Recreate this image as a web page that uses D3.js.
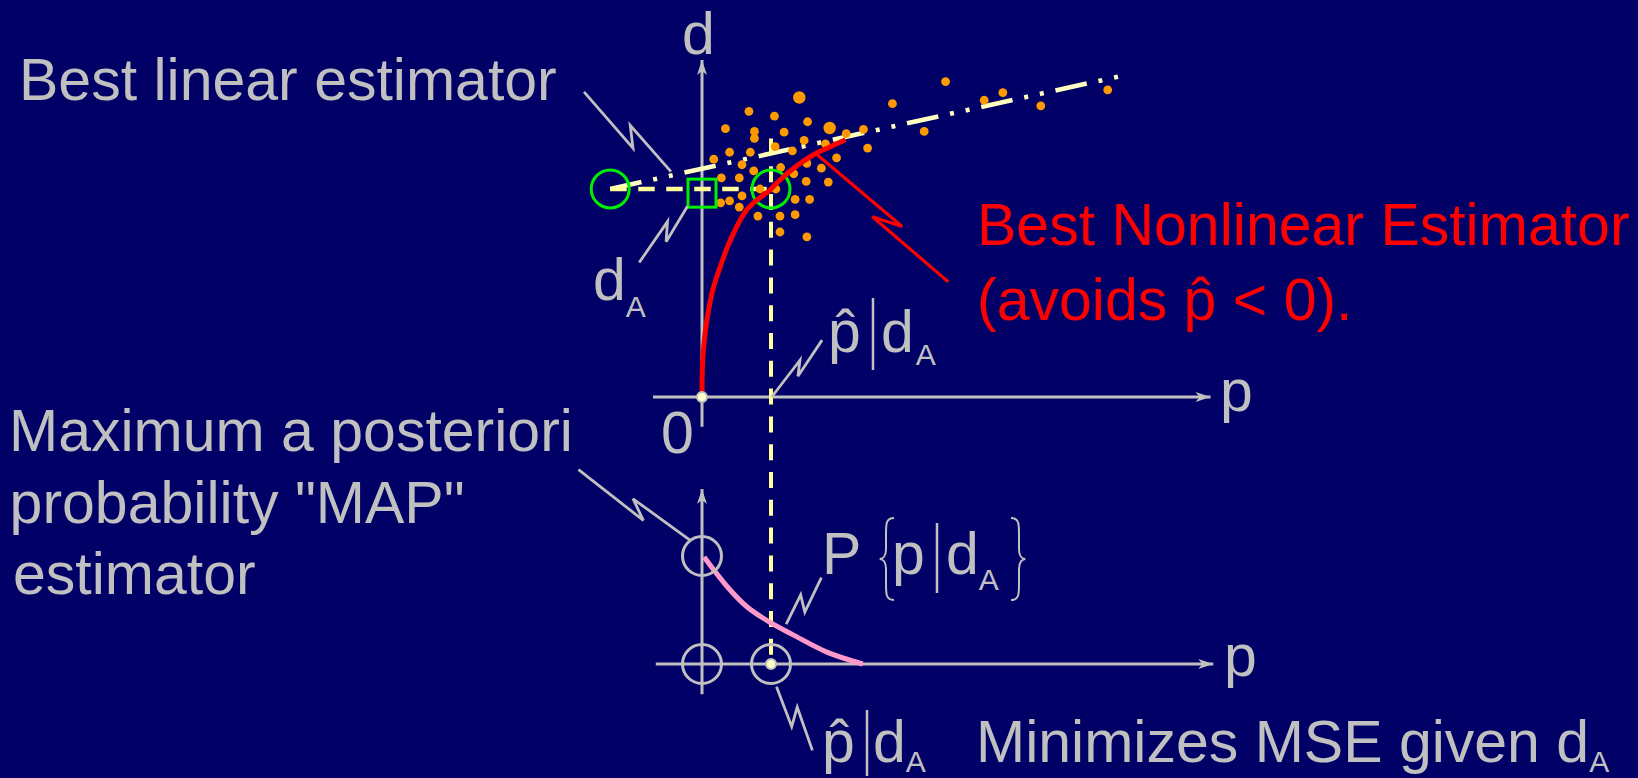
<!DOCTYPE html>
<html>
<head>
<meta charset="utf-8">
<script src="https://cdn.jsdelivr.net/npm/d3@7"></script>
<style>
  html, body { margin: 0; padding: 0; background: #000066; }
  svg { display: block; }
  text { font-family: "Liberation Sans", Arial, sans-serif; }
</style>
</head>
<body>
<div id="chart"></div>
<script>
let width = 1638;
let height = 778;

// the measured value d_A and the estimate p-hat it gives
let dA = 3;
let pHat = 1;

// scattered (p, d) samples, n = how many samples sit on the same spot
let sampleP = [1.41, 0.68, 1.05, 1.53, 1.85, 0.34, 0.76, 1.19, 2.09, 2.34,
  0.76, 1.48, 1.79, 1.06, 2.40, 0.40, 0.70, 1.31, 0.17, 0.58,
  1.52, 1.95, 0.75, 1.14, 1.33, 1.73, 0.28, 0.54, 1.51, 1.83,
  0.84, 1.07, 0.58, 0.27, 0.40, 0.54, 1.35, 1.56, 0.81, 1.13,
  1.35, 1.13, 1.52, 2.76, 3.22, 3.53, 4.09, 4.36, 4.91, 5.88];
let sampleD = [4.32, 4.12, 4.05, 3.97, 3.88, 3.87, 3.83, 3.82, 3.80, 3.86,
  3.73, 3.70, 3.65, 3.61, 3.59, 3.53, 3.53, 3.55, 3.43, 3.35,
  3.37, 3.45, 3.26, 3.31, 3.22, 3.30, 3.16, 3.16, 3.11, 3.10,
  3.00, 3.00, 2.90, 2.80, 2.83, 2.74, 2.85, 2.85, 2.61, 2.61,
  2.63, 2.38, 2.31, 4.23, 3.83, 4.55, 4.28, 4.39, 4.20, 4.43];
let sampleN = [2, 1, 1, 1, 2, 1, 1, 1, 1, 1, 1, 1, 1, 1, 1, 1, 1, 1, 1, 1,
  1, 1, 1, 1, 1, 1, 1, 1, 1, 1, 1, 1, 1, 1, 1, 1, 1, 1, 1, 1,
  1, 1, 1, 1, 1, 1, 1, 1, 1, 1];

// best linear estimator (ends of the fitted line)
let linearP = [-1.33, 6.03];
let linearD = [3.0, 4.62];

// best nonlinear estimator
let nonlinearP = [0, 0.02, 0.145, 0.30, 0.41, 0.65, 1.0, 1.13, 1.37, 1.61, 1.86, 2.08];
let nonlinearD = [0, 0.68, 1.50, 1.98, 2.26, 2.70, 3.0, 3.13, 3.33, 3.49, 3.61, 3.71];

// posterior P{p | d_A}
let postP = [0.03, 0.36, 0.65, 1.0, 1.32, 1.81, 2.33];
let postProb = [0.99, 0.72, 0.53, 0.38, 0.27, 0.11, 0.0];

// axis extents [min, max]
let topAxisP = [-0.71, 7.37];
let topAxisD = [-0.43, 4.86];
let botAxisP = [-0.67, 7.41];
let botAxisProb = [-0.28, 1.62];

// lightning callouts, as [p, value] points
let boltLinear = [[-1.71, 4.40], [-1.00, 3.59], [-1.04, 3.92], [-0.45, 3.25]];
let boltDA = [[-0.21, 2.75], [-0.52, 2.24], [-0.50, 2.53], [-0.91, 1.94]];
let boltNonlinear = [[1.64, 3.52], [2.90, 2.46], [2.47, 2.60], [3.57, 1.66]];
let boltPHatTop = [[1.01, 0.0], [1.42, 0.53], [1.39, 0.30], [1.74, 0.82]];
let boltMAP = [[-1.79, 1.80], [-0.85, 1.33], [-1.00, 1.53], [-0.18, 1.15]];
let boltPost = [[1.22, 0.37], [1.43, 0.64], [1.49, 0.48], [1.73, 0.80]];
let boltPHatBot = [[1.08, -0.21], [1.30, -0.58], [1.38, -0.40], [1.60, -0.80]];

let grey = "#c0c0c0";
let fontSize = 59;

let svg = d3.select("#chart").append("svg")
  .attr("width", width)
  .attr("height", height);

svg.append("rect").attr("width", width).attr("height", height).attr("fill", "#000066");

let x = d3.scaleLinear().domain([0, pHat]).range([702, 771]);
let yTop = d3.scaleLinear().domain([0, dA]).range([397, 189]);
let yBot = d3.scaleLinear().domain([0, 1]).range([664, 556]);
let rScale = d3.scaleSqrt().domain([0, 1]).range([0, 4.4]);

// straight line with a slim arrow head at (x1, y1)
function arrowLine(g, x0, y0, x1, y1) {
  g.append("line")
    .attr("x1", x0).attr("y1", y0).attr("x2", x1).attr("y2", y1)
    .attr("stroke", grey).attr("stroke-width", 3);
  let a = Math.atan2(y1 - y0, x1 - x0);
  let c = Math.cos(a), s = Math.sin(a);
  let pts = [[x1, y1],
    [x1 - 15 * c + 5 * s, y1 - 15 * s - 5 * c],
    [x1 - 11 * c, y1 - 11 * s],
    [x1 - 15 * c - 5 * s, y1 - 15 * s + 5 * c]];
  g.append("path").attr("d", "M" + pts.join("L") + "Z").attr("fill", grey);
}

function bolt(g, pts, yScale, color) {
  let line = d3.line().x(d => x(d[0])).y(d => yScale(d[1]));
  g.append("path").attr("d", line(pts))
    .attr("fill", "none").attr("stroke", color)
    .attr("stroke-width", color === grey ? 2.8 : 3.2)
    .attr("stroke-linejoin", "miter");
}

function brace(g, xc, y0, y1, dir) {
  // dir = 1 for "{", -1 for "}"
  let m = (y0 + y1) / 2;
  let o = 8 * dir;
  let path = d3.path();
  path.moveTo(xc + o, y0);
  path.bezierCurveTo(xc, y0, xc, y0 + 6, xc, y0 + 16);
  path.lineTo(xc, m - 10);
  path.bezierCurveTo(xc, m - 3, xc - o * 0.4, m, xc - o * 0.8, m);
  path.bezierCurveTo(xc - o * 0.4, m, xc, m + 3, xc, m + 10);
  path.lineTo(xc, y1 - 16);
  path.bezierCurveTo(xc, y1 - 6, xc, y1, xc + o, y1);
  g.append("path").attr("d", path.toString())
    .attr("fill", "none").attr("stroke", grey).attr("stroke-width", 2);
}

// ---------- top plot ----------
let gTop = svg.append("g");

arrowLine(gTop, x(topAxisP[0]), yTop(0), x(topAxisP[1]), yTop(0));
arrowLine(gTop, x(0), yTop(topAxisD[0]), x(0), yTop(topAxisD[1]));

// best linear estimator
gTop.append("line")
  .attr("x1", x(linearP[0])).attr("y1", yTop(linearD[0]))
  .attr("x2", x(linearP[1])).attr("y2", yTop(linearD[1]))
  .attr("stroke", "#ffffc0").attr("stroke-width", 4.6)
  .attr("stroke-dasharray", "32 12 4 12 4 12");

// d_A level and p-hat drop line
gTop.append("line")
  .attr("x1", x(linearP[0])).attr("y1", yTop(dA))
  .attr("x2", x(pHat)).attr("y2", yTop(dA))
  .attr("stroke", "#ffff99").attr("stroke-width", 4.4)
  .attr("stroke-dasharray", "16.5 11.5");
gTop.append("line")
  .attr("x1", x(pHat)).attr("y1", yTop(3.73))
  .attr("x2", x(pHat)).attr("y2", yBot(0))
  .attr("stroke", "#ffff99").attr("stroke-width", 4)
  .attr("stroke-dasharray", "16 11.8");

// samples
gTop.append("g").selectAll("circle")
  .data(d3.range(sampleP.length))
  .enter().append("circle")
  .attr("cx", i => x(sampleP[i]))
  .attr("cy", i => yTop(sampleD[i]))
  .attr("r", i => rScale(sampleN[i]))
  .attr("fill", "#ff9900");

// green markers
gTop.append("circle")
  .attr("cx", x(linearP[0])).attr("cy", yTop(linearD[0])).attr("r", 19)
  .attr("fill", "none").attr("stroke", "#00ee00").attr("stroke-width", 3);
gTop.append("circle")
  .attr("cx", x(pHat)).attr("cy", yTop(dA)).attr("r", 19)
  .attr("fill", "none").attr("stroke", "#00ee00").attr("stroke-width", 3);
gTop.append("rect")
  .attr("x", x(0) - 14).attr("y", yTop(2.94) - 14)
  .attr("width", 28).attr("height", 28)
  .attr("fill", "none").attr("stroke", "#00ee00").attr("stroke-width", 3);

// best nonlinear estimator
let redLine = d3.line()
  .x(i => x(nonlinearP[i]))
  .y(i => yTop(nonlinearD[i]))
  .curve(d3.curveCatmullRom.alpha(0.5));
gTop.append("path")
  .attr("d", redLine(d3.range(nonlinearP.length)))
  .attr("fill", "none").attr("stroke", "#ff0000").attr("stroke-width", 5);

gTop.append("circle")
  .attr("cx", x(0)).attr("cy", yTop(0)).attr("r", 5)
  .attr("fill", "#ffffcc").attr("stroke", grey).attr("stroke-width", 2);

bolt(gTop, boltLinear, yTop, grey);
bolt(gTop, boltDA, yTop, grey);
bolt(gTop, boltNonlinear, yTop, "#ff0000");
bolt(gTop, boltPHatTop, yTop, grey);

// ---------- bottom plot ----------
let gBot = svg.append("g");

arrowLine(gBot, x(botAxisP[0]), yBot(0), x(botAxisP[1]), yBot(0));
arrowLine(gBot, x(0), yBot(botAxisProb[0]), x(0), yBot(botAxisProb[1]));

let pinkLine = d3.line()
  .x(i => x(postP[i]))
  .y(i => yBot(postProb[i]))
  .curve(d3.curveCatmullRom.alpha(0.5));
gBot.append("path")
  .attr("d", pinkLine(d3.range(postP.length)))
  .attr("fill", "none").attr("stroke", "#ff99cc").attr("stroke-width", 5);

[[0, 1], [0, 0], [pHat, 0]].forEach(function(c) {
  gBot.append("circle")
    .attr("cx", x(c[0])).attr("cy", yBot(c[1])).attr("r", 19.5)
    .attr("fill", "none").attr("stroke", grey).attr("stroke-width", 3);
});
gBot.append("circle")
  .attr("cx", x(pHat)).attr("cy", yBot(0)).attr("r", 5)
  .attr("fill", "#ffffcc").attr("stroke", grey).attr("stroke-width", 2);

bolt(gBot, boltMAP, yBot, grey);
bolt(gBot, boltPost, yBot, grey);
bolt(gBot, boltPHatBot, yBot, grey);

// ---------- text ----------
function label(txt, tx, ty, color, size) {
  return svg.append("text").attr("x", tx).attr("y", ty)
    .attr("fill", color || grey).attr("font-size", size || fontSize).text(txt);
}
function sub(t, txt, dy, dx) {
  t.append("tspan").attr("font-size", 30).attr("dy", dy).attr("dx", dx || 0).text(txt);
}
function vbar(bx, y0, y1) {
  svg.append("line").attr("x1", bx).attr("x2", bx).attr("y1", y0).attr("y2", y1)
    .attr("stroke", grey).attr("stroke-width", 2.5);
}

label("Best linear estimator", 19, 100);
label("d", 682, 54);
label("0", 661, 453);
label("p", 1220, 411);
label("p", 1224, 676);

let t = label("d", 593, 300);
sub(t, "A", 16.7);

label("p\u0302", 828, 352);
vbar(873, 298, 370);
t = label("d", 881, 352);
sub(t, "A", 13, 2);

label("Best Nonlinear Estimator", 977, 245, "#ff0000");
label("(avoids p\u0302 < 0).", 977, 320, "#ff0000");

label("Maximum a posteriori", 9, 451);
label("probability \"MAP\"", 9.6, 523);
label("estimator", 13, 594);

label("P", 822, 574);
brace(svg, 886, 518, 600, 1);
label("p", 892, 574);
vbar(937, 523, 593);
t = label("d", 946, 574);
sub(t, "A", 16);
brace(svg, 1019, 518, 600, -1);

label("p\u0302", 822, 762);
vbar(867, 710, 776);
t = label("d", 873, 762);
sub(t, "A", 10);

t = label("Minimizes MSE given d", 976, 762);
sub(t, "A", 10);
</script>
</body>
</html>
